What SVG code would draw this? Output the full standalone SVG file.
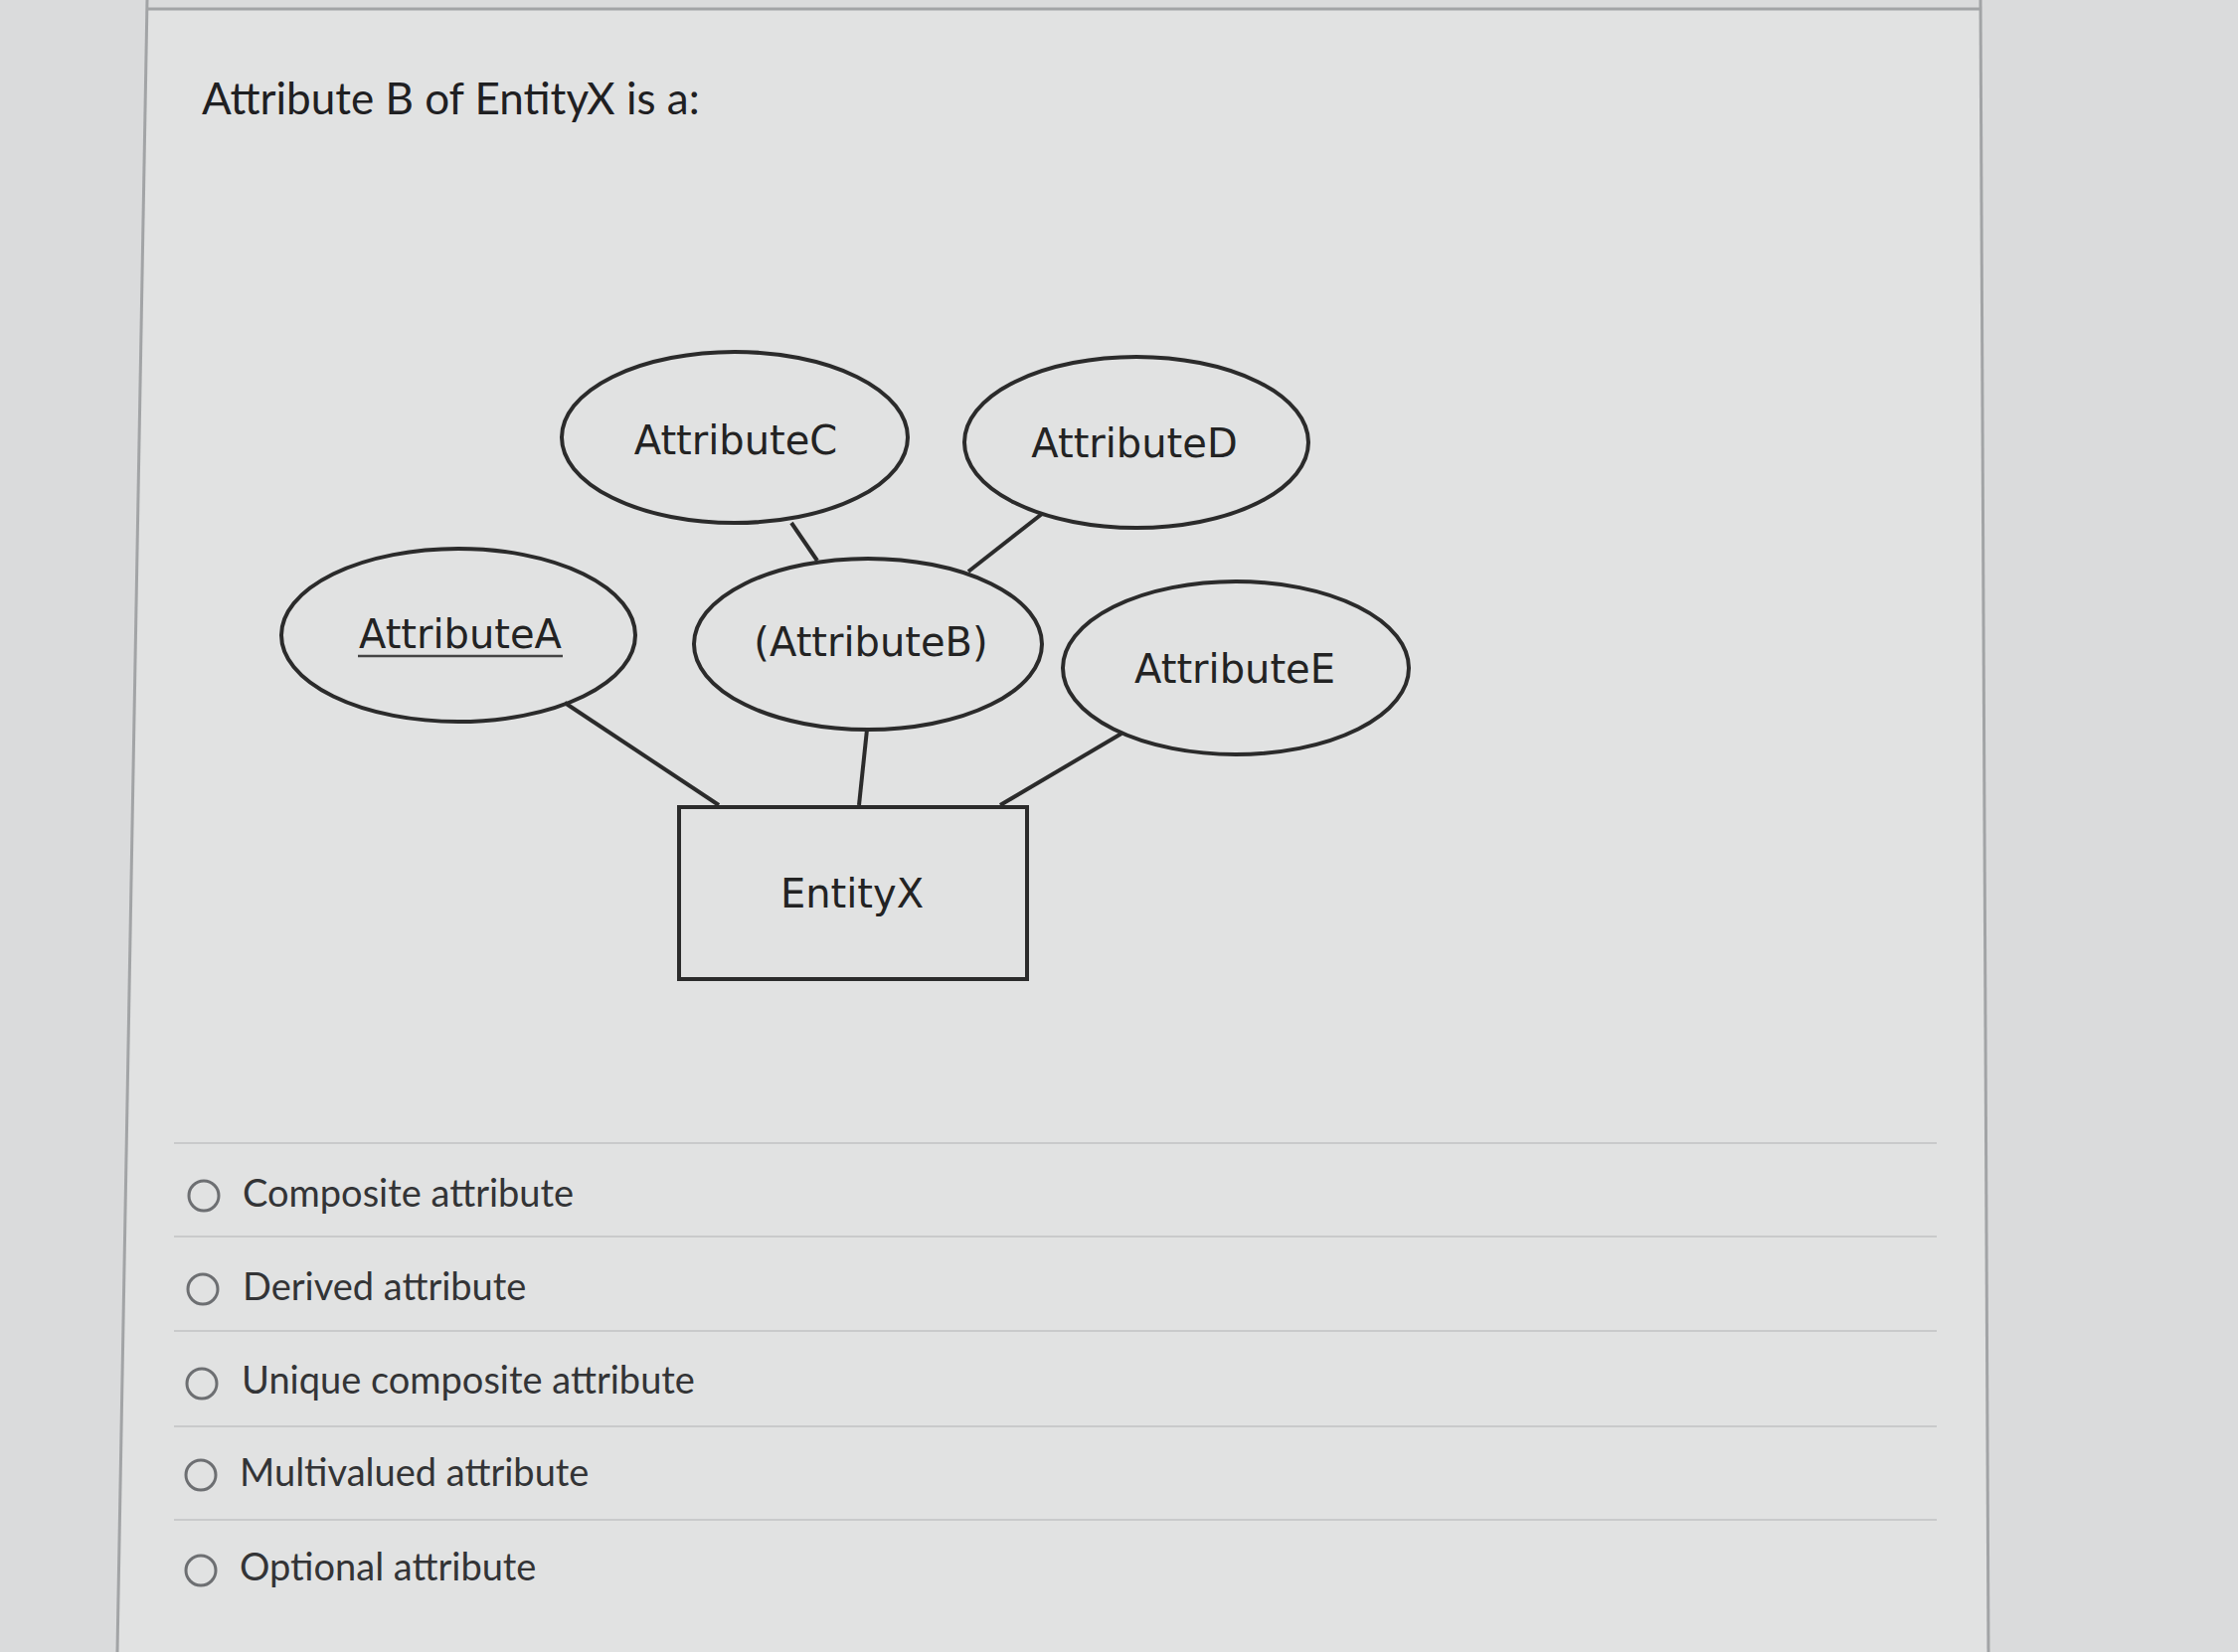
<svg xmlns="http://www.w3.org/2000/svg" width="2251" height="1662" viewBox="0 0 2251 1662">
<style>
.attr{fill:none;stroke:#2b2b2b;stroke-width:4}
.lbl{font-family:"DejaVu Sans",Verdana,sans-serif;font-size:40px;fill:#232323;text-anchor:middle}
.conn line{stroke:#2b2b2b;stroke-width:4}
.opt{font-family:Lato,"Liberation Sans",sans-serif;font-size:38px;fill:#333436}
.radio{fill:none;stroke:#6d6f72;stroke-width:3}
.sep{stroke:#c9cacb;stroke-width:2}
.edge{stroke:#a2a4a6;stroke-width:3;fill:none}
</style>
<rect x="0" y="0" width="2251" height="1662" fill="#dadbdc"/>
<polygon points="148,9 1992,9 2000,1662 118,1662" fill="#e1e2e2"/>
<g id="panel-edges">
<line class="edge" x1="148" y1="0" x2="118" y2="1662"/>
<line class="edge" x1="1992" y1="0" x2="2000" y2="1662"/>
<line class="edge" x1="148" y1="9" x2="1992" y2="9"/>
</g>
<text id="title" x="203" y="115" font-family="Lato,'Liberation Sans',sans-serif" font-size="44" fill="#1f2022">Attribute B of EntityX is a:</text>
<g id="connectors" class="conn">
<line x1="568" y1="707" x2="723" y2="810"/>
<line x1="872" y1="734" x2="864" y2="810"/>
<line x1="1128" y1="738" x2="1006" y2="810"/>
<line x1="796" y1="526" x2="822" y2="564"/>
<line x1="1048" y1="517" x2="974" y2="575"/>
</g>
<g id="attributeC"><ellipse class="attr" cx="739" cy="440" rx="174" ry="86"/><text class="lbl" x="740" y="457">AttributeC</text></g>
<g id="attributeD"><ellipse class="attr" cx="1143" cy="445" rx="173" ry="86"/><text class="lbl" x="1141" y="460">AttributeD</text></g>
<g id="attributeA"><ellipse class="attr" cx="461" cy="639" rx="178" ry="87"/><text class="lbl" x="463" y="652">AttributeA</text><line x1="360" y1="660" x2="566" y2="660" stroke="#444" stroke-width="2.5"/></g>
<g id="attributeB"><ellipse class="attr" cx="873" cy="648" rx="175" ry="86"/><text class="lbl" x="876" y="660">(AttributeB)</text></g>
<g id="attributeE"><ellipse class="attr" cx="1243" cy="672" rx="174" ry="87"/><text class="lbl" x="1242" y="687">AttributeE</text></g>
<g id="entityX"><rect x="683" y="812" width="350" height="173" fill="none" stroke="#2b2b2b" stroke-width="4"/><text class="lbl" x="857" y="913">EntityX</text></g>
<g id="separators">
<line class="sep" x1="175" y1="1150" x2="1948" y2="1150"/>
<line class="sep" x1="175" y1="1244" x2="1948" y2="1244"/>
<line class="sep" x1="175" y1="1339" x2="1948" y2="1339"/>
<line class="sep" x1="175" y1="1435" x2="1948" y2="1435"/>
<line class="sep" x1="175" y1="1529" x2="1948" y2="1529"/>
</g>
<g id="option1"><circle class="radio" cx="205" cy="1203" r="15"/><text class="opt" x="244" y="1214">Composite attribute</text></g>
<g id="option2"><circle class="radio" cx="204" cy="1297" r="15"/><text class="opt" x="244" y="1308">Derived attribute</text></g>
<g id="option3"><circle class="radio" cx="203" cy="1392" r="15"/><text class="opt" x="243" y="1402">Unique composite attribute</text></g>
<g id="option4"><circle class="radio" cx="202" cy="1484" r="15"/><text class="opt" x="241" y="1495">Multivalued attribute</text></g>
<g id="option5"><circle class="radio" cx="202" cy="1580" r="15"/><text class="opt" x="241" y="1590">Optional attribute</text></g>
</svg>
